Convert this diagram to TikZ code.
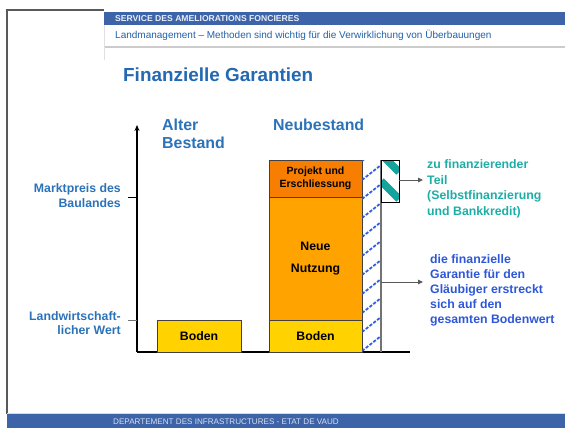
\documentclass[tikz,border=0pt]{standalone}
\usepackage{fontspec}
\setmainfont{Liberation Sans}
\usetikzlibrary{arrows.meta}
\definecolor{bannerblue}{HTML}{3D64A8}
\definecolor{titleblue}{HTML}{2268B2}
\definecolor{lblblue}{HTML}{2B72B8}
\definecolor{subblue}{HTML}{2060AA}
\definecolor{tealtxt}{HTML}{1CAEA6}
\definecolor{tealfill}{HTML}{14A39D}
\definecolor{rblue}{HTML}{2D57D8}
\definecolor{dorange}{HTML}{F77E00}
\definecolor{morange}{HTML}{FFA300}
\definecolor{gold}{HTML}{FFD200}
\definecolor{hatchblue}{HTML}{2F5FE0}
\newcommand\fsz[2]{\fontsize{#1}{#2}\selectfont}
\begin{document}
\begin{tikzpicture}[x=1pt,y=-1pt,
  lbl/.style={font=\bfseries\fsz{12.3}{15}, inner sep=0, text=lblblue},
  head/.style={font=\bfseries\fsz{15.9}{18.5}, inner sep=0, text=lblblue},
  box/.style={draw=black!75, line width=0.8, inner sep=0, font=\bfseries\fsz{12.3}{15}},
  tip/.style={-{Triangle[length=5pt,width=4.5pt]}, draw=black!65, line width=1},
]
\useasboundingbox (0,0) rectangle (565,428);
% frame / header / footer
\draw[black!65, line width=1.2] (7,414) -- (7,10) -- (104,10);
\fill[bannerblue] (104,12) rectangle (565,25);
\fill[black!20] (104,46) rectangle (565,48);
\draw[black!12, line width=1] (104,25) -- (104,60);
\node[anchor=west, inner sep=0, text=white!88!bannerblue, font=\bfseries\fsz{8.6}{10}] (banner) at (115,18.5) {SERVICE DES AMELIORATIONS FONCIERES};
\node[anchor=west, inner sep=0, text=subblue, font=\fsz{10}{12}] (sub) at (115,35) {Landmanagement – Methoden sind wichtig für die Verwirklichung von Überbauungen};
\fill[bannerblue] (7,414) rectangle (565,428);
\draw[black!15, line width=0.8] (7,413.6) -- (565,413.6);
\node[anchor=west, inner sep=0, text=white!80!bannerblue, font=\fsz{8.1}{9}] (foot) at (113,421.5) {DEPARTEMENT DES INFRASTRUCTURES - ETAT DE VAUD};
% title
\node[anchor=west, inner sep=0, text=titleblue, font=\bfseries\fsz{18.9}{22}] (title) at (123,75) {Finanzielle Garantien};
% axes
\coordinate (o) at (137,352);
\coordinate (ytop) at (137,125);
\coordinate (xend) at (410,352);
\draw[black, line width=1.2, -{Stealth[length=6pt,width=5pt]}] (o) -- (ytop);
\draw[black, line width=1.2] (o) -- (xend);
\coordinate (t1a) at (128,197); \coordinate (t1b) at (137,197);
\coordinate (t2a) at (128,320); \coordinate (t2b) at (137,320);
\draw[black, line width=1] (t1a) -- (t1b);
\draw[black!55, line width=1] (t2a) -- (t2b);
% axis labels
\node[lbl, align=right, anchor=east] (markt) at (121,196) {Marktpreis des\\Baulandes};
\node[lbl, align=right, anchor=east, font=\bfseries\fsz{12.3}{14}] (landw) at (121,323) {Landwirtschaft-\\licher Wert};
\node[head, align=left, anchor=west] (alter) at (162,134) {Alter\\Bestand};
\node[head, anchor=west] (neu) at (273,125) {Neubestand};
% old column
\node[box, fill=gold, minimum width=84, minimum height=32] (bodenalt) at (199,336) {Boden};
% new column
\node[box, fill=dorange, minimum width=93, minimum height=37, align=center, font=\bfseries\fsz{10.5}{13}] (projekt) at (315.5,178.5) {Projekt und\\Erschliessung};
\node[box, fill=morange, minimum width=93, minimum height=123, align=center, font=\bfseries\fsz{12.3}{22}] (nutzung) at (315.5,258.5) {Neue\\Nutzung};
\node[box, fill=gold, minimum width=93, minimum height=32] (bodenneu) at (315.5,336) {Boden};
% hatched strip
\node[minimum width=19, minimum height=192, inner sep=0, outer sep=0] (strip) at (371.5,256) {};
\begin{scope}
  \clip (362.4,160) rectangle (381,352);
  \foreach \k in {146,165,...,366}
    \draw[hatchblue, line width=1.8, dash pattern=on 3.2pt off 1.6pt] (362,\k+15) -- (381,\k);
\end{scope}
\draw[black!55, line width=1.4] (381,160) -- (381,352);
% teal box
\node[minimum width=18, minimum height=42, inner sep=0, outer sep=0] (teal) at (390,181) {};
\begin{scope}
  \clip (381,160) rectangle (399,202);
  \foreach \k in {127,154,181}
    \draw[tealfill, line width=7.5] (381,\k) -- (399,\k+18);
\end{scope}
\draw[black, line width=0.9] (381,160) rectangle (399,202);
% arrows
\coordinate (a1) at (399,180);
\coordinate (a1e) at (423,180);
\draw[tip] (a1) -- (a1e);
\coordinate (a2) at (381,282);
\coordinate (a2e) at (423,282);
\draw[tip] (a2) -- (a2e);
% right texts
\node[lbl, text=tealtxt, align=left, anchor=west, font=\bfseries\fsz{12.3}{15.5}] (tealtext) at (427,189) {zu finanzierender\\Teil\\(Selbstfinanzierung\\und Bankkredit)};
\node[lbl, text=rblue, align=left, anchor=west] (bluetext) at (430,290) {die finanzielle\\Garantie für den\\Gläubiger erstreckt\\sich auf den\\gesamten Bodenwert};
\end{tikzpicture}
\end{document}
